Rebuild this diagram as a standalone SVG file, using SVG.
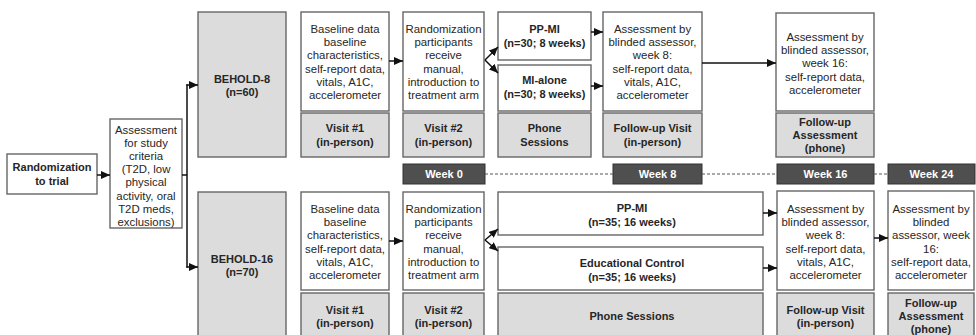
<svg xmlns="http://www.w3.org/2000/svg" width="976" height="335" viewBox="0 0 976 335">
<style>
.b{fill:#fff;stroke:#666;stroke-width:1.4}
.g{fill:#dcdcdc;stroke:#666;stroke-width:1.4}
.w{fill:#4f4f4f;stroke:#333;stroke-width:1}
text{font-family:"Liberation Sans",Arial,sans-serif;fill:#262626;text-anchor:middle;dominant-baseline:central}
.t{font-size:11.4px}
.h{font-size:11px;font-weight:bold}
.wt{font-size:11px;font-weight:bold;fill:#fff}
.c{fill:none;stroke:#111;stroke-width:1.5}
.a{marker-end:url(#ah)}
.d{fill:none;stroke:#555;stroke-width:1;stroke-dasharray:3 2}
</style>
<defs>
<marker id="ah" markerUnits="userSpaceOnUse" markerWidth="9" markerHeight="8" refX="9" refY="4" orient="auto">
<path d="M0,0 L9,4 L0,8 z" fill="#111"/>
</marker>
</defs>

<g id="randomization">
<rect class="b" x="7" y="154" width="90" height="40"/>
<text class="h" x="52"><tspan x="52" y="167">Randomization</tspan><tspan x="52" y="181">to trial</tspan></text>
</g>
<g id="screening">
<rect class="b" x="110" y="119" width="72" height="109"/>
<text class="t"><tspan x="146" y="130">Assessment</tspan><tspan x="146" y="143.1">for study</tspan><tspan x="146" y="156.2">criteria</tspan><tspan x="146" y="169.3">(T2D, low</tspan><tspan x="146" y="182.4">physical</tspan><tspan x="146" y="195.5">activity, oral</tspan><tspan x="146" y="208.6">T2D meds,</tspan><tspan x="146" y="221.7">exclusions)</tspan></text>
</g>
<g id="behold8">
<rect class="g" x="198" y="12" width="88" height="145"/>
<text class="h"><tspan x="242" y="79">BEHOLD-8</tspan><tspan x="242" y="92">(n=60)</tspan></text>
</g>
<g id="behold16">
<rect class="g" x="198" y="192" width="88" height="150"/>
<text class="h"><tspan x="242" y="259">BEHOLD-16</tspan><tspan x="242" y="272">(n=70)</tspan></text>
</g>

<!-- top row -->
<g id="b8-baseline">
<rect class="b" x="301" y="12" width="88" height="99"/>
<text class="t"><tspan x="345" y="29">Baseline data</tspan><tspan x="345" y="42.2">baseline</tspan><tspan x="345" y="55.4">characteristics,</tspan><tspan x="345" y="68.6">self-report data,</tspan><tspan x="345" y="81.8">vitals, A1C,</tspan><tspan x="345" y="95">accelerometer</tspan></text>
</g>
<g id="b8-visit1">
<rect class="g" x="301" y="113" width="88" height="44"/>
<text class="h"><tspan x="345" y="128">Visit #1</tspan><tspan x="345" y="142">(in-person)</tspan></text>
</g>
<g id="b8-random">
<rect class="b" x="403" y="12" width="81" height="99"/>
<text class="t"><tspan x="443.5" y="29">Randomization</tspan><tspan x="443.5" y="42.2">participants</tspan><tspan x="443.5" y="55.4">receive</tspan><tspan x="443.5" y="68.6">manual,</tspan><tspan x="443.5" y="81.8">introduction to</tspan><tspan x="443.5" y="95">treatment arm</tspan></text>
</g>
<g id="b8-visit2">
<rect class="g" x="403" y="113" width="81" height="44"/>
<text class="h"><tspan x="443.5" y="128">Visit #2</tspan><tspan x="443.5" y="142">(in-person)</tspan></text>
</g>
<g id="b8-ppmi">
<rect class="b" x="498" y="12" width="93" height="48"/>
<text class="h"><tspan x="544.5" y="29">PP-MI</tspan><tspan x="544.5" y="43">(n=30; 8 weeks)</tspan></text>
</g>
<g id="b8-mialone">
<rect class="b" x="498" y="65" width="93" height="46"/>
<text class="h"><tspan x="544.5" y="80">MI-alone</tspan><tspan x="544.5" y="94">(n=30; 8 weeks)</tspan></text>
</g>
<g id="b8-phone">
<rect class="g" x="498" y="113" width="93" height="44"/>
<text class="h"><tspan x="544.5" y="128">Phone</tspan><tspan x="544.5" y="142">Sessions</tspan></text>
</g>
<g id="b8-assess8">
<rect class="b" x="603" y="12" width="99" height="99"/>
<text class="t"><tspan x="652.5" y="29">Assessment by</tspan><tspan x="652.5" y="42.2">blinded assessor,</tspan><tspan x="652.5" y="55.4">week 8:</tspan><tspan x="652.5" y="68.6">self-report data,</tspan><tspan x="652.5" y="81.8">vitals, A1C,</tspan><tspan x="652.5" y="95">accelerometer</tspan></text>
</g>
<g id="b8-fuvisit">
<rect class="g" x="603" y="113" width="99" height="44"/>
<text class="h"><tspan x="652.5" y="128">Follow-up Visit</tspan><tspan x="652.5" y="142">(in-person)</tspan></text>
</g>
<g id="b8-assess16">
<rect class="b" x="776" y="13" width="98" height="98"/>
<text class="t"><tspan x="825" y="37">Assessment by</tspan><tspan x="825" y="50.2">blinded assessor,</tspan><tspan x="825" y="63.4">week 16:</tspan><tspan x="825" y="76.6">self-report data,</tspan><tspan x="825" y="89.8">accelerometer</tspan></text>
</g>
<g id="b8-fuassess">
<rect class="g" x="776" y="113" width="98" height="44"/>
<text class="h"><tspan x="825" y="122">Follow-up</tspan><tspan x="825" y="135">Assessment</tspan><tspan x="825" y="148">(phone)</tspan></text>
</g>

<!-- week bars -->
<g id="week0"><rect class="w" x="403" y="164" width="82" height="20"/><text class="wt" x="444" y="174">Week 0</text></g>
<g id="week8"><rect class="w" x="613" y="164" width="89" height="20"/><text class="wt" x="657.5" y="174">Week 8</text></g>
<g id="week16"><rect class="w" x="777" y="164" width="97" height="20"/><text class="wt" x="825.5" y="174">Week 16</text></g>
<g id="week24"><rect class="w" x="888" y="164" width="87" height="20"/><text class="wt" x="931.5" y="174">Week 24</text></g>

<!-- bottom row -->
<g id="b16-baseline">
<rect class="b" x="301" y="192" width="88" height="98"/>
<text class="t"><tspan x="345" y="209">Baseline data</tspan><tspan x="345" y="222.2">baseline</tspan><tspan x="345" y="235.4">characteristics,</tspan><tspan x="345" y="248.6">self-report data,</tspan><tspan x="345" y="261.8">vitals, A1C,</tspan><tspan x="345" y="275">accelerometer</tspan></text>
</g>
<g id="b16-visit1">
<rect class="g" x="301" y="293" width="88" height="50"/>
<text class="h"><tspan x="345" y="310">Visit #1</tspan><tspan x="345" y="323">(in-person)</tspan></text>
</g>
<g id="b16-random">
<rect class="b" x="403" y="192" width="81" height="98"/>
<text class="t"><tspan x="443.5" y="209">Randomization</tspan><tspan x="443.5" y="222.2">participants</tspan><tspan x="443.5" y="235.4">receive</tspan><tspan x="443.5" y="248.6">manual,</tspan><tspan x="443.5" y="261.8">introduction to</tspan><tspan x="443.5" y="275">treatment arm</tspan></text>
</g>
<g id="b16-visit2">
<rect class="g" x="403" y="293" width="81" height="50"/>
<text class="h"><tspan x="443.5" y="310">Visit #2</tspan><tspan x="443.5" y="323">(in-person)</tspan></text>
</g>
<g id="b16-ppmi">
<rect class="b" x="498" y="192" width="265" height="43"/>
<text class="h"><tspan x="632" y="208">PP-MI</tspan><tspan x="632" y="222">(n=35; 16 weeks)</tspan></text>
</g>
<g id="b16-educ">
<rect class="b" x="498" y="247" width="265" height="43"/>
<text class="h"><tspan x="632" y="263">Educational Control</tspan><tspan x="632" y="277">(n=35; 16 weeks)</tspan></text>
</g>
<g id="b16-phone">
<rect class="g" x="498" y="293" width="265" height="50"/>
<text class="h" x="632" y="316">Phone Sessions</text>
</g>
<g id="b16-assess16">
<rect class="b" x="777" y="191" width="97" height="99"/>
<text class="t"><tspan x="825.5" y="209">Assessment by</tspan><tspan x="825.5" y="222.2">blinded assessor,</tspan><tspan x="825.5" y="235.4">week 8:</tspan><tspan x="825.5" y="248.6">self-report data,</tspan><tspan x="825.5" y="261.8">vitals, A1C,</tspan><tspan x="825.5" y="275">accelerometer</tspan></text>
</g>
<g id="b16-fuvisit">
<rect class="g" x="777" y="293" width="97" height="50"/>
<text class="h"><tspan x="825.5" y="310">Follow-up Visit</tspan><tspan x="825.5" y="323">(in-person)</tspan></text>
</g>
<g id="b16-assess24">
<rect class="b" x="888" y="191" width="86" height="99"/>
<text class="t"><tspan x="931" y="209">Assessment by</tspan><tspan x="931" y="222.2">blinded</tspan><tspan x="931" y="235.4">assessor, week</tspan><tspan x="931" y="248.6">16:</tspan><tspan x="931" y="261.8">self-report data,</tspan><tspan x="931" y="275">accelerometer</tspan></text>
</g>
<g id="b16-fuassess">
<rect class="g" x="888" y="293" width="86" height="50"/>
<text class="h"><tspan x="931" y="303">Follow-up</tspan><tspan x="931" y="316">Assessment</tspan><tspan x="931" y="329">(phone)</tspan></text>
</g>

<g id="connectors">
<path class="d" d="M485,174 H613 M702,174 H777 M874,174 H888"/>
<path class="c a" d="M97,175 H110"/>
<path class="c" d="M182,175 H187 M187,84.3 V267.7"/>
<path class="c a" d="M186.3,85 H198"/>
<path class="c a" d="M186.3,267 H198"/>
<path class="c a" d="M389,61 H403"/>
<path class="c a" d="M389,241 H403"/>
<path class="c a" d="M485,60 L498,47"/>
<path class="c a" d="M485,60 L498,73"/>
<path class="c a" d="M485,240 L498,229"/>
<path class="c a" d="M485,240 L498,251"/>
<path class="c a" d="M591,32 H603"/>
<path class="c a" d="M591,86 H603"/>
<path class="c a" d="M702,63 H776"/>
<path class="c a" d="M763,213 H777"/>
<path class="c a" d="M763,268 H777"/>
<path class="c a" d="M874,238 H888"/>
</g>
</svg>
